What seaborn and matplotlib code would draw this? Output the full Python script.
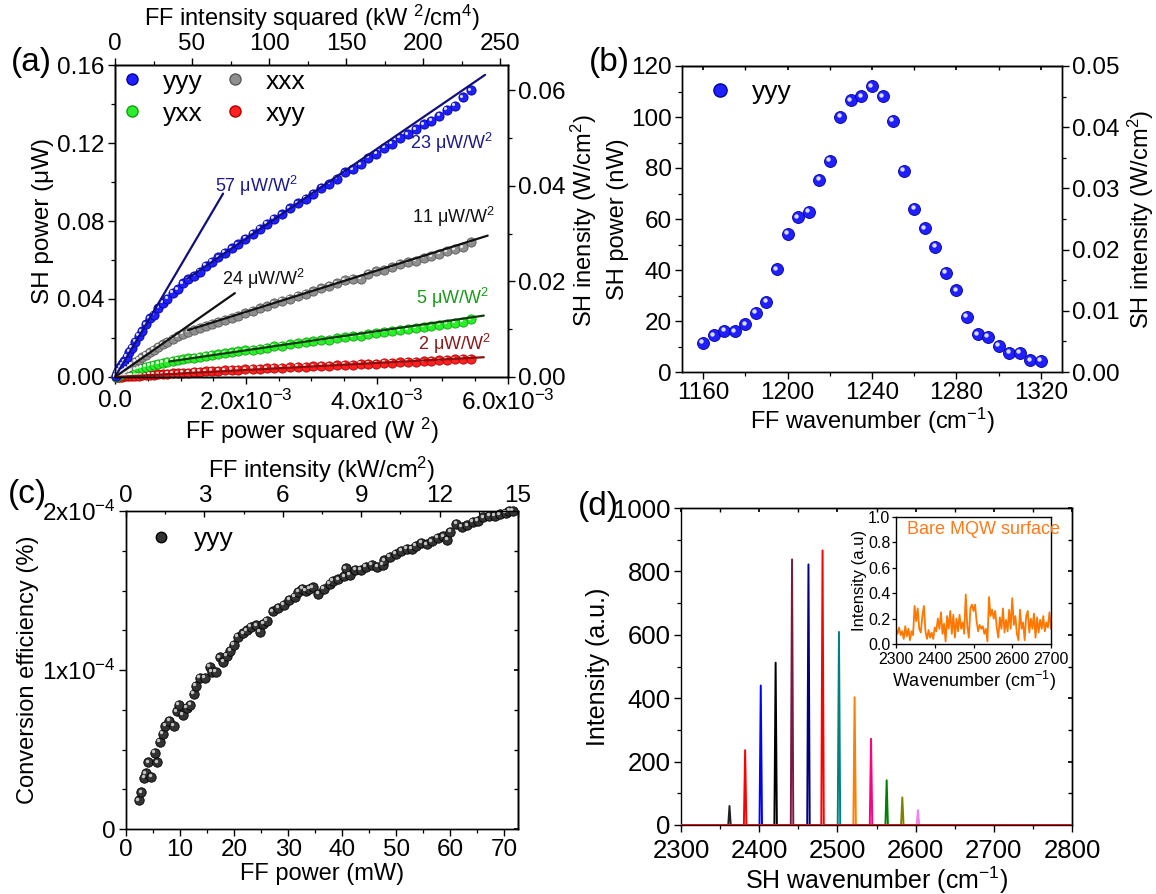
import numpy as np
import pandas as pd
import matplotlib
matplotlib.use("Agg")
import matplotlib.pyplot as plt
import matplotlib.transforms as mtransforms
from matplotlib.lines import Line2D
from matplotlib.ticker import MultipleLocator, FormatStrFormatter, FixedLocator, FixedFormatter
import seaborn as sns

sns.set_theme(style="ticks")
plt.rcParams["font.family"] = ["Liberation Sans", "DejaVu Sans"]
plt.rcParams["mathtext.fontset"] = "custom"
plt.rcParams["mathtext.rm"] = "Liberation Sans"
plt.rcParams["mathtext.it"] = "Liberation Sans:italic"
plt.rcParams["mathtext.bf"] = "Liberation Sans:bold"
plt.rcParams["axes.edgecolor"] = "black"
plt.rcParams["axes.linewidth"] = 1.0
plt.rcParams["xtick.color"] = "black"
plt.rcParams["ytick.color"] = "black"
plt.rcParams["text.color"] = "black"
plt.rcParams["axes.labelcolor"] = "black"

# ---------------- DATA ----------------
# (a) FF power squared (1e-3 W^2) and SH power (uW)
a_x = [0.01, 0.03, 0.05, 0.08, 0.11, 0.14, 0.18, 0.22, 0.26, 0.31,
       0.36, 0.41, 0.47, 0.53, 0.59, 0.66, 0.73, 0.80, 0.88, 0.96,
       1.04, 1.12, 1.21, 1.30, 1.39, 1.48, 1.58, 1.68, 1.78, 1.88,
       1.99, 2.10, 2.21, 2.32, 2.43, 2.55, 2.67, 2.79, 2.91, 3.03,
       3.15, 3.27, 3.39, 3.51, 3.63, 3.75, 3.87, 3.99, 4.11, 4.23,
       4.35, 4.47, 4.59, 4.71, 4.83, 4.95, 5.07, 5.19, 5.31, 5.43]
a_yyy = [0.0006, 0.002, 0.003, 0.005, 0.0065, 0.008, 0.0105, 0.013, 0.015, 0.018,
         0.021, 0.0235, 0.027, 0.030, 0.032, 0.0355, 0.038, 0.040, 0.043, 0.045,
         0.048, 0.050, 0.052, 0.054, 0.057, 0.059, 0.0614, 0.0636, 0.066, 0.068,
         0.0708, 0.0735, 0.076, 0.0785, 0.081, 0.0835, 0.0865, 0.089, 0.0915, 0.094,
         0.097, 0.099, 0.1015, 0.105, 0.1065, 0.109, 0.1125, 0.1145, 0.1175, 0.1195,
         0.1225, 0.1245, 0.127, 0.1295, 0.1315, 0.134, 0.137, 0.139, 0.1435, 0.147]
a_xxx = [0.0003, 0.0008, 0.0013, 0.002, 0.0028, 0.0035, 0.0045, 0.0055, 0.0065, 0.0077,
         0.0088, 0.010, 0.0113, 0.0126, 0.0140, 0.0155, 0.0168, 0.018, 0.0195, 0.0208,
         0.022, 0.0232, 0.0243, 0.0253, 0.0262, 0.0272, 0.0283, 0.0293, 0.0303, 0.0315,
         0.0327, 0.0340, 0.0352, 0.0363, 0.0378, 0.0390, 0.0402, 0.0415, 0.0427, 0.0440,
         0.0455, 0.0467, 0.0480, 0.0495, 0.0503, 0.0505, 0.0530, 0.0542, 0.0550, 0.0562,
         0.0580, 0.0588, 0.0597, 0.0610, 0.0618, 0.0630, 0.0645, 0.0655, 0.0665, 0.0690]
a_yxx = [0.0001, 0.0004, 0.0007, 0.0011, 0.0015, 0.0019, 0.0024, 0.0029, 0.0033, 0.0039,
         0.0044, 0.0048, 0.0053, 0.0058, 0.0063, 0.0068, 0.0073, 0.0078, 0.0083, 0.0087,
         0.0091, 0.0095, 0.0099, 0.0103, 0.0108, 0.0112, 0.0117, 0.0121, 0.0126, 0.0131,
         0.0136, 0.0140, 0.0146, 0.0150, 0.0157, 0.0160, 0.0168, 0.0172, 0.0178, 0.0183,
         0.0188, 0.0192, 0.0198, 0.0203, 0.0209, 0.0212, 0.0218, 0.0225, 0.0230, 0.0236,
         0.0240, 0.0245, 0.0251, 0.0256, 0.0262, 0.0266, 0.0272, 0.0277, 0.0283, 0.0295]
a_xyy = [0.0000, 0.0001, 0.0001, 0.0002, 0.0002, 0.0003, 0.0004, 0.0005, 0.0005, 0.0006,
         0.0007, 0.0008, 0.0009, 0.0010, 0.0012, 0.0013, 0.0014, 0.0016, 0.0018, 0.0019,
         0.0021, 0.0023, 0.0025, 0.0027, 0.0029, 0.0031, 0.0033, 0.0035, 0.0036, 0.0038,
         0.0040, 0.0041, 0.0043, 0.0045, 0.0046, 0.0048, 0.0050, 0.0052, 0.0053, 0.0055,
         0.0057, 0.0058, 0.0060, 0.0062, 0.0064, 0.0066, 0.0067, 0.0069, 0.0071, 0.0073,
         0.0075, 0.0077, 0.0079, 0.0081, 0.0083, 0.0086, 0.0088, 0.0090, 0.0092, 0.0094]
a_series = ["yyy", "yxx", "xxx", "xyy"]

# linear fits in (a): slope (uW per 1e-3 W^2), intercept, x range, label
fit_slope = [0.057, 0.023, 0.0235, 0.0106, 0.0049, 0.0018]
fit_icept = [0.0, 0.025, 0.0, 0.0122, 0.0039, 0.0]
fit_x0 = [0.0, 1.10, 0.0, 1.11, 0.83, 0.0]
fit_x1 = [1.65, 5.65, 1.83, 5.69, 5.63, 5.63]
fit_text = ["57 μW/W$^2$", "23 μW/W$^2$", "24 μW/W$^2$", "11 μW/W$^2$", "5 μW/W$^2$", "2 μW/W$^2$"]
fit_text_x = [1.52, 4.50, 1.64, 4.53, 4.59, 4.62]
fit_text_y = [0.098, 0.120, 0.0505, 0.082, 0.0406, 0.0171]
fit_color = ["#10107a", "#10107a", "#111111", "#111111", "#0e3a0e", "#8b1010"]
fit_text_color = ["#1a1a8c", "#1a1a8c", "#111111", "#111111", "#1a9a1a", "#8b1a1a"]

a_xticks = [0, 2, 4, 6]
a_xticklabels = ["0.0", "2.0x10$^{-3}$", "4.0x10$^{-3}$", "6.0x10$^{-3}$"]

# (b) SH power vs FF wavenumber
b_wn = [1160, 1165, 1170, 1175, 1180, 1185, 1190, 1195, 1200, 1205, 1210,
        1215, 1220, 1225, 1230, 1235, 1240, 1245, 1250, 1255, 1260, 1265,
        1270, 1275, 1280, 1285, 1290, 1295, 1300, 1305, 1310, 1315, 1320]
b_power = [11.5, 14.4, 16.1, 15.9, 18.7, 23.3, 27.5, 40.2, 54.1, 60.7, 62.9,
           75.3, 82.9, 100.0, 106.5, 108.1, 112.0, 108.1, 98.4, 79.0, 63.9, 56.3,
           49.1, 38.9, 32.0, 21.7, 14.8, 13.8, 10.2, 7.6, 7.6, 4.6, 4.3]

# (c) conversion efficiency (1e-4 %) vs FF power (mW)
c_power = [2.4, 2.85, 3.4, 3.7, 4.1, 4.7, 5.3, 5.8, 6.2, 6.8, 7.3, 8.0, 8.8, 9.4, 9.8,
           10.5, 11.2, 11.9, 12.6, 12.9, 13.6, 14.6, 15.5, 15.9, 16.6, 17.3, 18.0, 18.7,
           19.3, 20.0, 20.7, 21.7, 22.4, 23.1, 24.1, 24.8, 25.4, 26.1, 27.1, 28.2, 29.2,
           30.2, 31.2, 31.9, 32.6, 33.2, 33.9, 34.6, 35.6, 36.6, 37.7, 38.3, 39.3, 40.4,
           40.7, 41.4, 42.4, 43.4, 44.4, 45.5, 46.5, 47.5, 47.8, 48.8, 49.9, 50.9, 51.9,
           52.9, 53.6, 54.6, 55.6, 56.6, 57.7, 58.7, 59.4, 60.0, 61.1, 62.1, 63.1, 64.1,
           65.1, 66.1, 67.2, 68.2, 69.2, 70.2, 70.9, 71.6]
c_eff = [0.18, 0.23, 0.32, 0.35, 0.42, 0.33, 0.48, 0.42, 0.55, 0.60, 0.65, 0.68, 0.65, 0.74, 0.78,
         0.72, 0.76, 0.78, 0.85, 0.90, 0.95, 0.95, 1.02, 0.99, 0.99, 1.08, 1.05, 1.09,
         1.12, 1.16, 1.21, 1.23, 1.25, 1.27, 1.28, 1.24, 1.29, 1.31, 1.37, 1.39, 1.41,
         1.44, 1.46, 1.49, 1.51, 1.50, 1.51, 1.52, 1.48, 1.51, 1.54, 1.56, 1.57, 1.59,
         1.64, 1.60, 1.63, 1.63, 1.65, 1.66, 1.65, 1.66, 1.69, 1.71, 1.73, 1.75, 1.76,
         1.76, 1.78, 1.80, 1.79, 1.81, 1.83, 1.84, 1.82, 1.87, 1.92, 1.90, 1.91, 1.93,
         1.94, 1.96, 1.97, 1.97, 1.98, 1.99, 2.00, 2.00]
c_yticks = [0, 1, 2]
c_yticklabels = ["0", "1x10$^{-4}$", "2x10$^{-4}$"]

# (d) SH spectra peaks
d_center = [2362, 2382, 2402, 2421, 2442, 2463, 2481, 2502, 2522, 2543, 2563, 2583, 2603]
d_height = [60, 236, 440, 512, 838, 822, 866, 609, 403, 272, 141, 87, 47]
d_color = ["#222222", "#ff0000", "#0000ff", "#000000", "#7a1a40", "#000080", "#ff0000",
           "#008080", "#ff8000", "#ff007f", "#008000", "#808000", "#ee82ee"]

# (d) inset: bare MQW surface
ins_vals = [0.12, 0.08, 0.13, 0.07, 0.10, 0.04, 0.14, 0.06, 0.12, 0.03, 0.10, 0.07, 0.30,
            0.18, 0.28, 0.12, 0.09, 0.22, 0.30, 0.10, 0.04, 0.11, 0.05, 0.09, 0.04, 0.13,
            0.10, 0.20, 0.12, 0.25, 0.08, 0.16, 0.02, 0.22, 0.12, 0.26, 0.08, 0.23, 0.05,
            0.20, 0.10, 0.23, 0.12, 0.17, 0.08, 0.39, 0.14, 0.05, 0.28, 0.31, 0.26, 0.31,
            0.18, 0.10, 0.15, 0.12, 0.14, 0.08, 0.12, 0.02, 0.37, 0.22, 0.27, 0.20, 0.26,
            0.13, 0.05, 0.21, 0.12, 0.28, 0.09, 0.19, 0.10, 0.27, 0.12, 0.36, 0.15, 0.22,
            0.08, 0.03, 0.27, 0.12, 0.17, 0.03, 0.22, 0.26, 0.09, 0.20, 0.12, 0.24, 0.05,
            0.21, 0.09, 0.19, 0.12, 0.22, 0.10, 0.17, 0.13, 0.25, 0.12]
ins_x = np.linspace(2300, 2700, len(ins_vals))

# ---------------- FIGURE ----------------
W, H = 1156, 894
fig = plt.figure(figsize=(W / 100, H / 100), dpi=100)


def frac(l, r, t, b):
    return [l / W, 1 - b / H, (r - l) / W, (b - t) / H]


TICK = 17.5
LAB = 17


def ticks_out(ax, size=TICK):
    ax.tick_params(which="major", direction="out", length=5, width=1.0, labelsize=size, pad=2.5)
    ax.tick_params(which="minor", direction="out", length=3, width=0.9)


def spheres(ax, x, y, color, edge, s, hl=5, z=3, hlcolor="white"):
    sns.scatterplot(x=x, y=y, ax=ax, s=s, color=color, edgecolor=edge, linewidth=0.6,
                    legend=False, zorder=z, clip_on=False)
    tr = mtransforms.offset_copy(ax.transData, fig=fig, x=-1.2, y=1.2, units="points")
    ax.scatter(x, y, s=hl, color=hlcolor, alpha=0.85, linewidths=0, transform=tr,
               zorder=z + 0.1, clip_on=False)


# ======== (a) ========
ax = fig.add_axes(frac(115, 508, 65, 377))
a_style = {"yyy": ("#1f1fff", "#0000a0"), "xxx": ("#8f8f8f", "#5a5a5a"),
           "yxx": ("#2aef2a", "#10a010"), "xyy": ("#ff2020", "#b00000")}
a_vals = {"yyy": a_yyy, "xxx": a_xxx, "yxx": a_yxx, "xyy": a_xyy}
for name in ["xyy", "yxx", "xxx", "yyy"]:
    c, e = a_style[name]
    spheres(ax, a_x, a_vals[name], c, e, s=44, hl=5)
for i in range(len(fit_slope)):
    xs = np.array([fit_x0[i], fit_x1[i]])
    ax.plot(xs, fit_slope[i] * xs + fit_icept[i], color=fit_color[i], lw=1.6, zorder=5,
            clip_on=False)
    ax.text(fit_text_x[i], fit_text_y[i], fit_text[i], color=fit_text_color[i], fontsize=13,
            ha="left", va="center")
ax.set_xlim(0, 6)
ax.set_ylim(0, 0.16)
ax.xaxis.set_major_locator(FixedLocator(a_xticks))
ax.xaxis.set_major_formatter(FixedFormatter(a_xticklabels))
ax.xaxis.set_minor_locator(MultipleLocator(0.5))
ax.yaxis.set_major_locator(MultipleLocator(0.04))
ax.yaxis.set_minor_locator(MultipleLocator(0.02))
ax.yaxis.set_major_formatter(FormatStrFormatter("%.2f"))
ticks_out(ax)
ax.tick_params(axis="x", which="major", pad=4.5)
ax.set_xlabel("FF power squared (W $^{2}$)", fontsize=LAB, labelpad=0)
ax.set_ylabel("SH power (μW)", fontsize=LAB + 0.5, labelpad=2)
handles = [Line2D([], [], ls="", marker="o", ms=8, color=a_style[n][0], mec=a_style[n][1])
           for n in a_series]
ax.legend(handles, a_series, ncol=2, loc="upper left", bbox_to_anchor=(0.01, 0.985),
          frameon=False, fontsize=19, handlelength=1.0, handletextpad=0.65,
          columnspacing=0.75, labelspacing=0.3, borderpad=0, borderaxespad=0)
axt = ax.twiny()
axt.set_xlim(0, 255)
axt.xaxis.set_major_locator(MultipleLocator(50))
axt.xaxis.set_minor_locator(MultipleLocator(25))
ticks_out(axt)
axt.set_xlabel("FF intensity squared (kW $^{2}$/cm$^{4}$)", fontsize=LAB, labelpad=5)
axr = ax.twinx()
axr.set_ylim(0, 0.0653)
axr.yaxis.set_major_locator(MultipleLocator(0.02))
axr.yaxis.set_minor_locator(MultipleLocator(0.01))
axr.yaxis.set_major_formatter(FormatStrFormatter("%.2f"))
ticks_out(axr)
axr.set_ylabel("SH inensity (W/cm$^{2}$)", fontsize=LAB, labelpad=2)

# ======== (b) ========
bx = fig.add_axes(frac(682, 1062, 66, 372))
spheres(bx, b_wn, b_power, "#2020ff", "#0000a0", s=74, hl=10)
bx.set_xlim(1150, 1330)
bx.set_ylim(0, 120)
bx.xaxis.set_major_locator(MultipleLocator(40))
bx.xaxis.set_minor_locator(MultipleLocator(20))
bx.yaxis.set_major_locator(MultipleLocator(20))
bx.yaxis.set_minor_locator(MultipleLocator(10))
ticks_out(bx)
bx.set_xlabel("FF wavenumber (cm$^{-1}$)", fontsize=LAB, labelpad=1)
bx.set_ylabel("SH power (nW)", fontsize=LAB, labelpad=1)
bx.legend([Line2D([], [], ls="", marker="o", ms=9.5, color="#2020ff", mec="#0000a0")], ["yyy"],
          loc="upper left", bbox_to_anchor=(0.066, 0.955), frameon=False, fontsize=19,
          handlelength=1.0, handletextpad=0.7, borderpad=0, borderaxespad=0)
bt = bx.secondary_xaxis("top")
bt.xaxis.set_major_locator(MultipleLocator(40))
bt.xaxis.set_minor_locator(MultipleLocator(20))
bt.tick_params(which="both", direction="in", labeltop=False, length=3)
br = bx.twinx()
br.set_ylim(0, 0.05)
br.yaxis.set_major_locator(MultipleLocator(0.01))
br.yaxis.set_minor_locator(MultipleLocator(0.005))
br.yaxis.set_major_formatter(FormatStrFormatter("%.2f"))
ticks_out(br)
br.set_ylabel("SH intensity (W/cm$^{2}$)", fontsize=LAB, labelpad=4)

# ======== (c) ========
cx = fig.add_axes(frac(126, 518, 511, 829))
spheres(cx, c_power, c_eff, "#333333", "#000000", s=46, hl=6, hlcolor="#e0e0e0")
cx.set_xlim(0, 72.5)
cx.set_ylim(0, 2)
cx.xaxis.set_major_locator(MultipleLocator(10))
cx.xaxis.set_minor_locator(MultipleLocator(5))
cx.yaxis.set_major_locator(FixedLocator(c_yticks))
cx.yaxis.set_major_formatter(FixedFormatter(c_yticklabels))
cx.yaxis.set_minor_locator(MultipleLocator(0.25))
ticks_out(cx)
cx.set_xlabel("FF power (mW)", fontsize=LAB, labelpad=1)
cx.set_ylabel("Conversion efficiency (%)", fontsize=LAB, labelpad=2)
cx.legend([Line2D([], [], ls="", marker="o", ms=7.5, color="#333333", mec="#000000")], ["yyy"],
          loc="upper left", bbox_to_anchor=(0.055, 0.95), frameon=False, fontsize=19,
          handlelength=1.0, handletextpad=0.75, borderpad=0, borderaxespad=0)
ct = cx.twiny()
ct.set_xlim(0, 15.0)
ct.xaxis.set_major_locator(MultipleLocator(3))
ct.xaxis.set_minor_locator(MultipleLocator(1.5))
ct.tick_params(which="major", direction="in", length=4, width=1.0, labelsize=TICK, pad=3)
ct.tick_params(which="minor", direction="in", length=2.5, width=0.9)
ct.set_xlabel("FF intensity (kW/cm$^{2}$)", fontsize=LAB, labelpad=5)
cr = cx.secondary_yaxis("right")
cr.yaxis.set_major_locator(MultipleLocator(1))
cr.yaxis.set_minor_locator(MultipleLocator(0.25))
cr.tick_params(which="both", direction="in", labelright=False, length=3)

# ======== (d) ========
dx = fig.add_axes(frac(681, 1072, 508, 825))
for i in range(len(d_center)):
    c0 = d_center[i]
    px = [2300, c0 - 1.6, c0, c0 + 1.6, 2800]
    py = [0, 0, d_height[i], 0, 0]
    dx.plot(px, py, color=d_color[i], lw=1.4, zorder=4 if i == 6 else 3)
dx.set_xlim(2300, 2800)
dx.set_ylim(0, 1000)
dx.xaxis.set_major_locator(MultipleLocator(100))
dx.xaxis.set_minor_locator(MultipleLocator(50))
dx.yaxis.set_major_locator(MultipleLocator(200))
dx.yaxis.set_minor_locator(MultipleLocator(100))
ticks_out(dx, size=18.5)
dx.tick_params(axis="x", which="major", pad=5)
dx.set_xlabel("SH wavenumber (cm$^{-1}$)", fontsize=18, labelpad=1)
dx.set_ylabel("Intensity (a.u.)", fontsize=18, labelpad=2)
dt = dx.secondary_xaxis("top")
dt.xaxis.set_major_locator(MultipleLocator(100))
dt.xaxis.set_minor_locator(MultipleLocator(50))
dt.tick_params(which="both", direction="in", labeltop=False, length=3)
dr = dx.secondary_yaxis("right")
dr.yaxis.set_major_locator(MultipleLocator(200))
dr.yaxis.set_minor_locator(MultipleLocator(100))
dr.tick_params(which="both", direction="in", labelright=False, length=3)

ix = fig.add_axes(frac(896, 1051, 517, 644))
sns.lineplot(x=ins_x, y=ins_vals, ax=ix, color="#ff7700", lw=1.3, sort=False)
ix.set_xlim(2300, 2700)
ix.set_ylim(0, 1.0)
ix.xaxis.set_major_locator(MultipleLocator(100))
ix.yaxis.set_major_locator(MultipleLocator(0.2))
ix.yaxis.set_major_formatter(FormatStrFormatter("%.1f"))
ix.tick_params(which="major", direction="out", length=3, width=0.9, labelsize=11.5, pad=1)
ix.tick_params(axis="x", which="major", pad=3)
ix.set_xlabel("Wavenumber (cm$^{-1}$)", fontsize=13, labelpad=1)
ix.set_ylabel("Intensity (a.u)", fontsize=12, labelpad=1)
ix.text(0.07, 0.9, "Bare MQW surface", transform=ix.transAxes, color="#ff7a1a",
        fontsize=13, ha="left", va="center")

# panel letters
for lbl, (px_, py_) in {"(a)": (31, 62), "(b)": (609, 63), "(c)": (27, 494), "(d)": (598, 506)}.items():
    fig.text(px_ / W, 1 - py_ / H, lbl, fontsize=24, ha="center", va="center")

fig.savefig("out.png", dpi=100)
